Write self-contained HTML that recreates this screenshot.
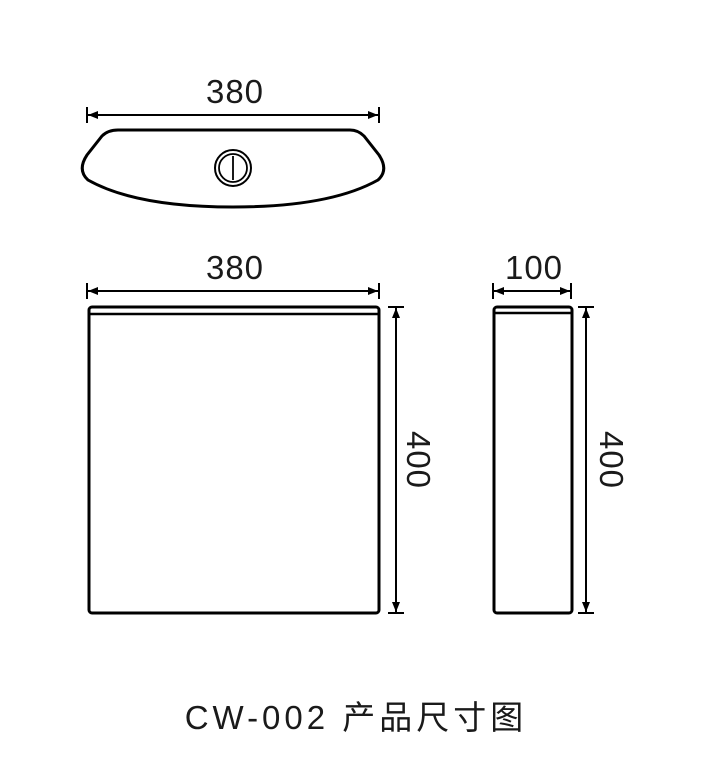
<!DOCTYPE html>
<html><head><meta charset="utf-8"><style>
html,body{margin:0;padding:0;background:#fff;width:708px;height:767px;overflow:hidden}
</style></head><body>
<svg width="708" height="767" viewBox="0 0 708 767" xmlns="http://www.w3.org/2000/svg">
<defs>
<marker id="a" viewBox="0 0 10 10" refX="10" refY="5" markerWidth="16" markerHeight="10" markerUnits="userSpaceOnUse" orient="auto-start-reverse"><path d="M0,1 L10,5 L0,9 z" fill="#000"/></marker>
</defs>
<g font-family="'Liberation Sans', sans-serif" font-size="33" fill="#1a1a1a" text-anchor="middle" letter-spacing="1">
<text x="235" y="103">380</text>
<text x="235" y="279">380</text>
<text x="534" y="279">100</text>
<text transform="translate(407,460) rotate(90)">400</text>
<text transform="translate(600,460) rotate(90)">400</text>
</g>
<g stroke="#000" stroke-width="2" fill="none">
<line x1="87" y1="107" x2="87" y2="123"/><line x1="379" y1="107" x2="379" y2="123"/>
<line x1="88" y1="115" x2="378" y2="115" marker-start="url(#a)" marker-end="url(#a)"/>
<path d="M118,130 L350,130 Q358,130 364,136 L379,155 Q389,170 378,180 Q330,207 233,207 Q136,207 88,180 Q77,170 87,155 L102,136 Q108,130 118,130 Z" stroke-width="3"/>
<circle cx="233" cy="168" r="18" stroke-width="2"/>
<circle cx="233" cy="168" r="14" stroke-width="1.8"/>
<line x1="233" y1="156" x2="233" y2="180" stroke-width="1.8"/>
<line x1="87" y1="283" x2="87" y2="299"/><line x1="379" y1="283" x2="379" y2="299"/>
<line x1="88" y1="291" x2="378" y2="291" marker-start="url(#a)" marker-end="url(#a)"/>
<rect x="89" y="307" width="290" height="306" rx="3" stroke-width="3"/>
<line x1="90" y1="314" x2="378" y2="314" stroke-width="2.5"/>
<line x1="388" y1="307" x2="404" y2="307"/><line x1="388" y1="613" x2="404" y2="613"/>
<line x1="396" y1="308" x2="396" y2="612" marker-start="url(#a)" marker-end="url(#a)"/>
<line x1="493" y1="283" x2="493" y2="299"/><line x1="571" y1="283" x2="571" y2="299"/>
<line x1="494" y1="291" x2="570" y2="291" marker-start="url(#a)" marker-end="url(#a)"/>
<rect x="494" y="307" width="78" height="306" rx="3" stroke-width="3"/>
<line x1="495" y1="313" x2="571" y2="313" stroke-width="2.5"/>
<line x1="578" y1="307" x2="594" y2="307"/><line x1="578" y1="613" x2="594" y2="613"/>
<line x1="586" y1="308" x2="586" y2="612" marker-start="url(#a)" marker-end="url(#a)"/>
</g>
<text x="356" y="729" text-anchor="middle" font-family="'Liberation Sans','Noto Sans CJK SC',sans-serif" font-size="33" letter-spacing="4" fill="#1a1a1a">CW-002 产品尺寸图</text>
</svg>
</body></html>
